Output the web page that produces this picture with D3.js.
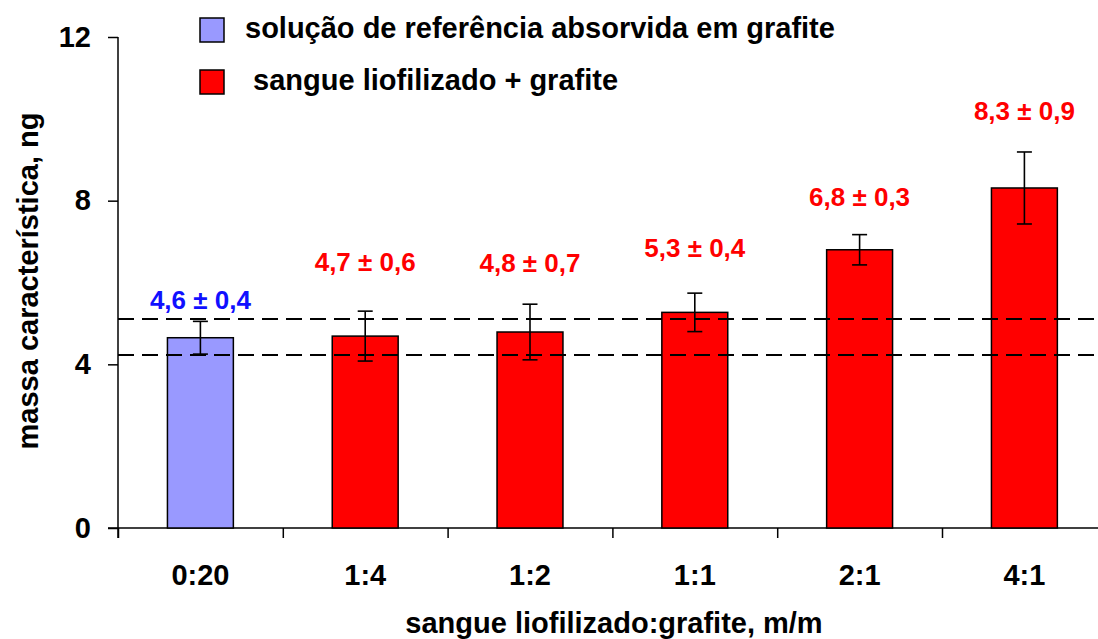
<!DOCTYPE html>
<html>
<head>
<meta charset="utf-8">
<script src="https://cdnjs.cloudflare.com/ajax/libs/d3/7.8.5/d3.min.js"></script>
<style>
  body { margin: 0; background: #fff; }
  svg text { font-family: "Liberation Sans", Arial, sans-serif; font-weight: bold; }
</style>
</head>
<body>
<div id="chart"></div>
<script>
// chart data
const categories = ["0:20", "1:4", "1:2", "1:1", "2:1", "4:1"];
const values = [4.65, 4.69, 4.79, 5.27, 6.8, 8.31];
const errors = [0.4, 0.61, 0.68, 0.47, 0.37, 0.88];
const series = ["ref", "blood", "blood", "blood", "blood", "blood"];
const labels = ["4,6 ± 0,4", "4,7 ± 0,6", "4,8 ± 0,7", "5,3 ± 0,4", "6,8 ± 0,3", "8,3 ± 0,9"];
const labelAt = [5.35, 6.27, 6.25, 6.62, 7.87, 9.98];   // annotation height, in ng
const refBand = [4.23, 5.11];                              // dashed reference lines
const yTicks = [0, 4, 8, 12];
const legendItems = ["ref", "blood"];
const legendText = ["solução de referência absorvida em grafite", " sangue liofilizado + grafite"];

const colors = { ref: "#9999ff", blood: "#ff0000" };
const labelColors = { ref: "#1010ff", blood: "#ff0000" };

const width = 1098, height = 639;
const plotLeft = 118, plotBottom = 528, plotTop = 37;
const step = 164.8;

const svg = d3.select("#chart").append("svg")
  .attr("width", width)
  .attr("height", height);

const x = d3.scaleBand()
  .domain(categories)
  .range([plotLeft, plotLeft + step * categories.length])
  .padding(0);

const xEdges = d3.scaleLinear()
  .domain([0, categories.length])
  .range([plotLeft, plotLeft + step * categories.length]);

const y = d3.scaleLinear()
  .domain([0, 12])
  .range([plotBottom, plotTop]);

const barW = x.bandwidth() * 0.4;

// y axis
const yAxis = svg.append("g")
  .attr("transform", `translate(${plotLeft},0)`)
  .call(d3.axisLeft(y).tickValues(yTicks).tickSize(10).tickSizeOuter(0).tickPadding(17));
yAxis.select(".domain").remove();
yAxis.selectAll(".tick line").attr("stroke", "#000").attr("stroke-width", 1.5);
yAxis.selectAll(".tick text").attr("font-size", 29).attr("fill", "#000");
svg.append("line")
  .attr("x1", plotLeft).attr("x2", plotLeft)
  .attr("y1", y(12)).attr("y2", plotBottom + 10)
  .attr("stroke", "#000").attr("stroke-width", 1.5);

// x axis: ticks at band edges, labels at band centres
const xAxis = svg.append("g")
  .attr("transform", `translate(0,${plotBottom})`)
  .call(d3.axisBottom(xEdges).tickValues(d3.range(categories.length + 1)).tickSize(10).tickFormat(""));
xAxis.select(".domain").remove();
xAxis.selectAll(".tick line").attr("stroke", "#000").attr("stroke-width", 1.5);
svg.append("line")
  .attr("x1", plotLeft - 10).attr("x2", width)
  .attr("y1", plotBottom).attr("y2", plotBottom)
  .attr("stroke", "#000").attr("stroke-width", 1.5);

const xLabels = svg.append("g")
  .attr("transform", `translate(0,${plotBottom})`)
  .call(d3.axisBottom(x).tickSize(0).tickPadding(36));
xLabels.select(".domain").remove();
xLabels.selectAll(".tick text").attr("font-size", 29).attr("fill", "#000");

// bars
svg.append("g")
  .selectAll("rect")
  .data(categories)
  .join("rect")
  .attr("x", (d) => x(d) + x.bandwidth() / 2 - barW / 2)
  .attr("y", (d, i) => y(values[i]))
  .attr("width", barW)
  .attr("height", (d, i) => y(0) - y(values[i]))
  .attr("fill", (d, i) => colors[series[i]])
  .attr("stroke", "#000")
  .attr("stroke-width", 1.5);

// dashed reference band
svg.append("g")
  .selectAll("line")
  .data(refBand)
  .join("line")
  .attr("x1", plotLeft).attr("x2", width)
  .attr("y1", (d) => y(d)).attr("y2", (d) => y(d))
  .attr("stroke", "#000")
  .attr("stroke-width", 2)
  .attr("stroke-dasharray", "16,8");

// error bars
const err = svg.append("g")
  .selectAll("g")
  .data(categories)
  .join("g")
  .attr("stroke", "#000")
  .attr("stroke-width", 1.6);
const cx = (d) => x(d) + x.bandwidth() / 2;
err.append("line")
  .attr("x1", cx).attr("x2", cx)
  .attr("y1", (d, i) => y(values[i] + errors[i]))
  .attr("y2", (d, i) => y(values[i] - errors[i]));
err.append("line")
  .attr("x1", (d) => cx(d) - 7.5).attr("x2", (d) => cx(d) + 7.5)
  .attr("y1", (d, i) => y(values[i] + errors[i]))
  .attr("y2", (d, i) => y(values[i] + errors[i]));
err.append("line")
  .attr("x1", (d) => cx(d) - 7.5).attr("x2", (d) => cx(d) + 7.5)
  .attr("y1", (d, i) => y(values[i] - errors[i]))
  .attr("y2", (d, i) => y(values[i] - errors[i]));

// value labels
svg.append("g")
  .selectAll("text")
  .data(categories)
  .join("text")
  .attr("x", cx)
  .attr("y", (d, i) => y(labelAt[i]))
  .attr("text-anchor", "middle")
  .attr("font-size", 26)
  .attr("fill", (d, i) => labelColors[series[i]])
  .text((d, i) => labels[i]);

// axis titles
svg.append("text")
  .attr("x", 614)
  .attr("y", 633)
  .attr("text-anchor", "middle")
  .attr("font-size", 29)
  .text("sangue liofilizado:grafite, m/m");

svg.append("text")
  .attr("transform", "translate(38,281) rotate(-90)")
  .attr("text-anchor", "middle")
  .attr("font-size", 29)
  .text("massa característica, ng");

// legend
const legend = svg.append("g")
  .selectAll("g")
  .data(legendItems)
  .join("g")
  .attr("transform", (d, i) => `translate(200,${18 + i * 52})`);
legend.append("rect")
  .attr("width", 24).attr("height", 24)
  .attr("fill", (d) => colors[d])
  .attr("stroke", "#000")
  .attr("stroke-width", 1.5);
legend.append("text")
  .attr("x", 45)
  .attr("y", 20)
  .attr("font-size", 29)
  .attr("xml:space", "preserve")
  .style("white-space", "pre")
  .text((d, i) => legendText[i]);
</script>
</body>
</html>
